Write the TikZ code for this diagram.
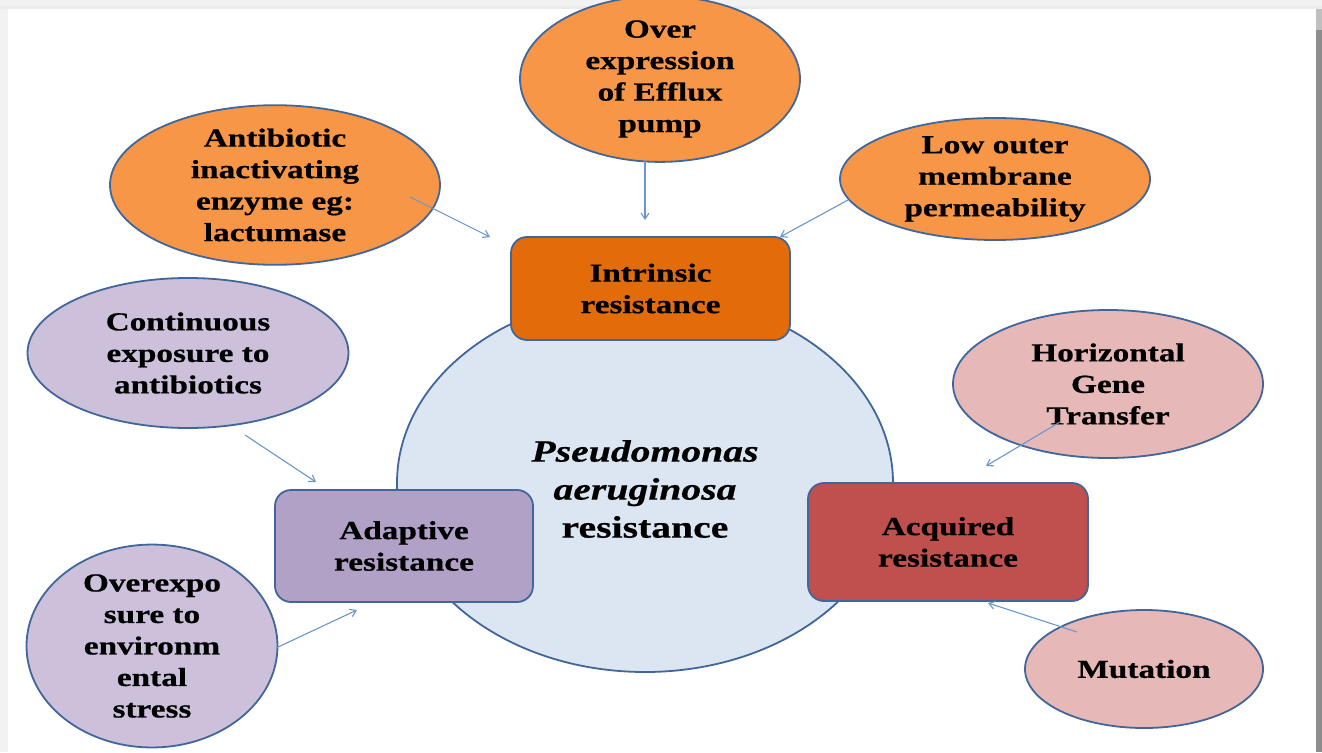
\documentclass[tikz,border=0pt]{standalone}
\usepackage{fontspec}
\setmainfont[FakeStretch=1.28, BoldFeatures={FakeBold=0.6}, BoldItalicFeatures={FakeBold=0.6}]{Liberation Serif}
\usetikzlibrary{shapes.geometric,arrows.meta}
\definecolor{bordc}{HTML}{41669A}
\definecolor{arrc}{HTML}{6A96CC}
\definecolor{orangeL}{HTML}{F79646}
\definecolor{orangeD}{HTML}{E36C0A}
\definecolor{purpL}{HTML}{CCC0DA}
\definecolor{purpD}{HTML}{B2A1C7}
\definecolor{redL}{HTML}{E6B9B8}
\definecolor{redD}{HTML}{C0504D}
\definecolor{circc}{HTML}{DCE6F2}
\tikzset{
  lbl/.style={font=\fontsize{26}{31.5}\selectfont\bfseries, align=center, text=black},
  oval/.style={ellipse, draw=bordc, line width=1.8pt, inner sep=0pt, lbl},
  rbox/.style={rectangle, rounded corners=16pt, draw=bordc, line width=1.8pt, inner sep=0pt, lbl},
  conn/.style={draw=arrc, line width=1.1pt, -{Straight Barb[length=6pt,width=8pt,line width=1.1pt]}}
}
\begin{document}
\begin{tikzpicture}[x=1pt,y=-1pt]
\useasboundingbox (0,0) rectangle (1322,752);
\fill[black!5] (0,0) rectangle (1322,752);
\fill[black!8] (0,6) rectangle (1322,9);
\fill[white] (8,9) rectangle (1316,752);
\fill[black!25] (1316,9) rectangle (1322,30);
\fill[black!45] (1316,30) rectangle (1322,752);

% central ellipse
\node[ellipse, draw=bordc, line width=1.8pt, fill=circc, minimum width=496pt, minimum height=378pt, inner sep=0pt] (core) at (645,483) {};
\node[font=\fontsize{31}{38}\selectfont\bfseries, align=center] (coretxt) at (645,489) {\textit{Pseudomonas}\\ \textit{aeruginosa}\\ resistance};

% boxes
\node[rbox, fill=orangeD, minimum width=279pt, minimum height=103pt] (intr) at (650.5,288.5) {Intrinsic\\ resistance};
\node[rbox, fill=purpD, minimum width=258pt, minimum height=112pt] (adap) at (404,546) {Adaptive\\ resistance};
\node[rbox, fill=redD, minimum width=280pt, minimum height=118pt] (acq) at (948,542) {Acquired\\ resistance};

% ellipses
\node[oval, fill=orangeL, minimum width=280pt, minimum height=128pt] (over) at (660,79) {Over\\ expression\\ of Efflux\\ pump};
\node[oval, fill=orangeL, minimum width=330pt, minimum height=134pt] (anti) at (275,185) {Antibiotic\\ inactivating\\ enzyme eg:\\ lactumase};
\node[oval, fill=orangeL, minimum width=310pt, minimum height=122pt] (low) at (995,179) {Low outer\\ membrane\\ permeability};
\node[oval, fill=purpL, minimum width=321pt, minimum height=150pt] (cont) at (188,353) {Continuous\\ exposure to\\ antibiotics};
\node[oval, fill=purpL, minimum width=251pt, minimum height=162pt] (ovex) at (152,646) {Overexpo\\ sure to\\ environm\\ ental\\ stress};
\node[oval, fill=redL, minimum width=310pt, minimum height=148pt] (hgt) at (1108,384) {Horizontal\\ Gene\\ Transfer};
\node[oval, fill=redL, minimum width=238pt, minimum height=118pt] (mut) at (1144,669) {Mutation};

% connector end points
\coordinate (a1) at (410,197); \coordinate (b1) at (490,237);
\coordinate (a2) at (645,160); \coordinate (b2) at (645,220);
\coordinate (a3) at (848,200); \coordinate (b3) at (780,237);
\coordinate (a4) at (245,435); \coordinate (b4) at (316,482);
\coordinate (a5) at (276,648); \coordinate (b5) at (357,610);
\coordinate (a6) at (1060,422); \coordinate (b6) at (986,466);
\coordinate (a7) at (1077,632); \coordinate (b7) at (988,603);

\draw[conn] (a1) -- (b1);
\draw[conn] (a2) -- (b2);
\draw[conn] (a3) -- (b3);
\draw[conn] (a4) -- (b4);
\draw[conn] (a5) -- (b5);
\draw[conn] (a6) -- (b6);
\draw[conn] (a7) -- (b7);
\end{tikzpicture}
\end{document}
